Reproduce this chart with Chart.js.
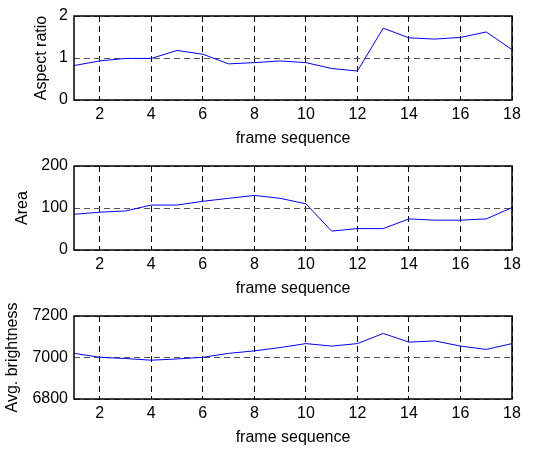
<!DOCTYPE html>
<html>
<head>
<meta charset="utf-8">
<script src="https://cdn.jsdelivr.net/npm/chart.js@4"></script>
<style>
  body { margin: 0; background: #fff; width: 557px; height: 449px; overflow: hidden; }
  canvas { display: block; }
</style>
</head>
<body>
<canvas id="ratioChart" width="557" height="150"></canvas>
<canvas id="areaChart" width="557" height="150"></canvas>
<canvas id="brightChart" width="557" height="149"></canvas>
<script>
const frames = [1, 2, 3, 4, 5, 6, 7, 8, 9, 10, 11, 12, 13, 14, 15, 16, 17, 18];
const xTicks = [2, 4, 6, 8, 10, 12, 14, 16, 18];

const aspectRatio = [0.82, 0.93, 0.99, 0.99, 1.18, 1.09, 0.86, 0.89, 0.93, 0.89, 0.75, 0.69, 1.71, 1.48, 1.45, 1.49, 1.62, 1.2];
const area = [85, 90, 93, 107, 107, 116, 123, 130, 123, 110, 45, 51, 51, 74, 71, 71, 74, 101];
const brightness = [7020, 7001, 6995, 6987, 6993, 7001, 7020, 7032, 7048, 7067, 7055, 7067, 7116, 7074, 7080, 7055, 7039, 7067];

const ratioTicks = [0, 1, 2];
const areaTicks = [0, 100, 200];
const brightTicks = [6800, 7000, 7200];

const FONT = "'Liberation Sans', Arial, Helvetica, sans-serif";

// black box round the plot area, like matlab axes
const boxPlugin = {
    id: 'box',
    afterDraw(chart) {
        const a = chart.chartArea;
        const ctx = chart.ctx;
        ctx.save();
        ctx.strokeStyle = '#000';
        ctx.lineWidth = 1.5;
        ctx.strokeRect(a.left, a.top, a.right - a.left, a.bottom - a.top);
        ctx.restore();
    }
};

function makePanel(id, values, yTicks, yLabel, titlePad) {
    const ctx = document.getElementById(id).getContext('2d');
    new Chart(ctx, {
        type: 'line',
        data: {
            datasets: [{
                data: frames.map((f, i) => ({ x: f, y: values[i] })),
                borderColor: '#0000ff',
                borderWidth: 1,
                pointRadius: 0,
                tension: 0,
                fill: false
            }]
        },
        options: {
            responsive: false,
            animation: false,
            layout: { padding: { top: 16, right: 45, left: 0, bottom: 0 } },
            plugins: { legend: { display: false }, tooltip: { enabled: false } },
            scales: {
                x: {
                    type: 'linear',
                    min: 1,
                    max: 18,
                    afterBuildTicks: s => { s.ticks = xTicks.map(v => ({ value: v })); },
                    afterFit: s => { s.height = 50; },
                    grid: { color: '#000', lineWidth: 1, drawTicks: false },
                    border: { display: false, dash: [6, 4] },
                    ticks: { color: '#000', padding: 5, maxRotation: 0, font: { family: FONT, size: 16 } },
                    title: { display: true, text: 'frame sequence', color: '#000', padding: { top: 0, bottom: 2 }, font: { family: FONT, size: 16 } }
                },
                y: {
                    min: yTicks[0],
                    max: yTicks[yTicks.length - 1],
                    afterBuildTicks: s => { s.ticks = yTicks.map(v => ({ value: v })); },
                    afterFit: s => { s.width = 74; },
                    grid: { color: '#555', lineWidth: 1, drawTicks: false },
                    border: { display: false, dash: [6, 4] },
                    ticks: { color: '#000', padding: 6, callback: v => String(v), font: { family: FONT, size: 16 } },
                    title: { display: true, text: yLabel, color: '#000', padding: { top: titlePad, bottom: 0 }, font: { family: FONT, size: 16 } }
                }
            }
        },
        plugins: [boxPlugin]
    });
}

makePanel('ratioChart', aspectRatio, ratioTicks, 'Aspect ratio', 32);
makePanel('areaChart', area, areaTicks, 'Area', 13);
makePanel('brightChart', brightness, brightTicks, 'Avg. brightness', 3);
</script>
</body>
</html>
